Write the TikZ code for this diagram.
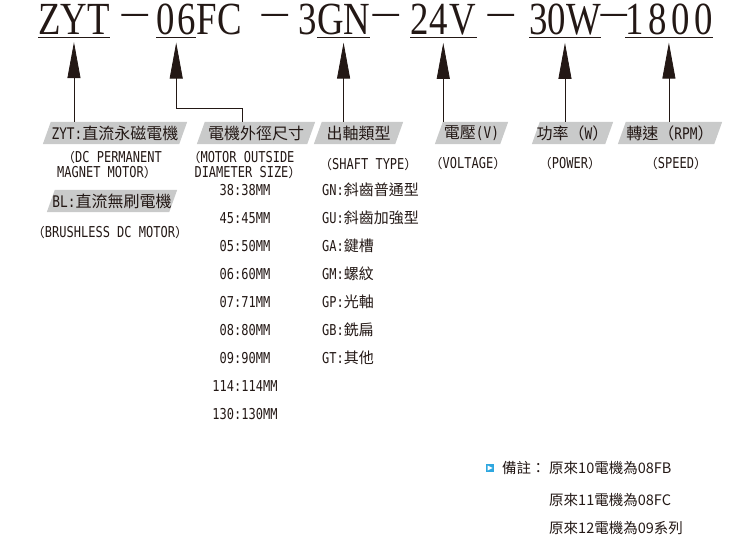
\documentclass[tikz,border=0pt]{standalone}
\usepackage{fontspec}
\usepackage{tikz}
\usetikzlibrary{arrows.meta, backgrounds, positioning, calc}
\newfontfamily\cjk{Noto Sans CJK TC}
\newfontfamily\titlefont[FakeStretch=0.8]{Liberation Serif}
\newfontfamily\dashfont[FakeStretch=2.5, FakeBold=5]{Liberation Serif}
\newfontfamily\codefont[FakeStretch=0.8]{DejaVu Sans Mono}
\definecolor{ink}{HTML}{231815}
\definecolor{tagfill}{HTML}{C9CACA}
\definecolor{iconblue}{HTML}{2EA7E0}
\newcommand{\fsize}[1]{\fontsize{#1}{#1}\selectfont}
\newcommand{\zlp}{{\cjk\fsize{13}（}}
\newcommand{\zrp}{{\cjk\fsize{13}）}}

\begin{document}
\begin{tikzpicture}[x=1pt, y=-1pt,
		every node/.style={text=ink, inner sep=0pt},
		head/.style={anchor=base west, font=\titlefont\fsize{46}, text height=31pt},
		hyphen/.style={anchor=base west, font=\dashfont\fsize{20}, text height=6pt, text depth=0pt},
		tag/.style={minimum height=22pt, font=\cjk\fsize{16}},
		desc/.style={anchor=base, font=\codefont\fsize{15}, text height=11pt, text depth=2pt},
		item/.style={anchor=base west, font=\cjk\fsize{15}, text height=13pt, text depth=2pt},
		remark/.style={anchor=base west, font=\cjk\fsize{14.5}},
		pointer/.style={draw=ink, line width=0.8pt, -{Triangle[length=36pt, width=13pt]}, shorten >=7pt}
		]
	\useasboundingbox (0,0) rectangle (750,540);

		% --- model code ---
		\node[head] (ZYT) at (38,35) {ZYT};
		\node[hyphen] (D1) at (122,19.5) {–};
		\node[head] (N06) at (156,35) {\addfontfeature{LetterSpace=7}06};
		\node[head] (FC) at (N06.base east) {FC};
		\node[hyphen] (D2) at (262,19.5) {–};
		\node[head] (N3) at (298,35) {3};
		\node[head] (GN) at (N3.base east) {GN};
		\node[hyphen] (D3) at (373,19.5) {–};
		\node[head] (V24) at (410,35) {\addfontfeature{LetterSpace=3}24V};
		\node[hyphen] (D4) at (488,19.5) {–};
		\node[head] (W30) at (529,35) {30W};
		\node[hyphen] (D5) at (601,19.5) {–};
		\node[head] (R1800) at (625,35) {\addfontfeature{LetterSpace=10}1800};

		\foreach \n in {ZYT,N06,GN,V24,W30,R1800}
			\draw[ink, line width=1.2pt] ([yshift=-2.5pt]\n.base west) -- ([yshift=-2.5pt]\n.base east);

		% --- grey tags (slanted fill behind) ---
		\node[tag, minimum width=136pt] (tZYT) at (115,133) {{\codefont ZYT:}直流永磁電機};
		\node[tag, minimum width=122pt] (tBL) at (112,201) {{\codefont BL:}直流無刷電機};
		\node[tag, minimum width=110pt] (tSize) at (256,133) {電機外徑尺寸};
		\node[tag, minimum width=81pt] (tShaft) at (358.5,133) {出軸類型};
		\node[tag, minimum width=65pt] (tVolt) at (471.5,133) {電壓{\codefont (V)}};
		\node[tag, minimum width=73pt] (tPower) at (572.5,133) {功率（{\codefont W}）};
		\node[tag, minimum width=96pt] (tSpeed) at (670,133) {轉速（{\codefont RPM}）};
		\begin{pgfonlayer}{background}
			\foreach \t in {tZYT,tBL,tSize,tShaft,tVolt,tPower,tSpeed}
				\fill[tagfill] ([xshift=-4pt]\t.south west) -- ([xshift=4pt]\t.north west)
					-- ([xshift=4pt]\t.north east) -- ([xshift=-4pt]\t.south east) -- cycle;
		\end{pgfonlayer}

		\draw[pointer] (ZYT.south |- tZYT.north) -- (ZYT.south);
		\draw[pointer] ([xshift=-14pt]tSize.north) -- ++(0,-13) -| (N06.south);
		\draw[pointer] (GN.south |- tShaft.north) -- (GN.south);
		\draw[pointer] (V24.south |- tVolt.north) -- (V24.south);
		\draw[pointer] (W30.south |- tPower.north) -- (W30.south);
		\draw[pointer] (R1800.south |- tSpeed.north) -- (R1800.south);

		% --- english names ---
		\node[desc] (eZYTa) at (112,162.5) {\zlp DC PERMANENT};
		\node[desc] (eZYTb) at (107,177.5) {MAGNET MOTOR\zrp};
		\node[desc] (eBL) at (110,237.5) {\zlp BRUSHLESS DC MOTOR\zrp};
		\node[desc] (eSizea) at (241,162.5) {\zlp MOTOR OUTSIDE};
		\node[desc] (eSizeb) at (248,177.5) {DIAMETER SIZE\zrp};
		\node[desc, anchor=base west] (eShaft) at (319,169.5) {\zlp SHAFT TYPE\zrp};
		\node[desc] (eVolt) at (468,168.5) {\zlp VOLTAGE\zrp};
		\node[desc] (ePower) at (570,168.5) {\zlp POWER\zrp};
		\node[desc] (eSpeed) at (676,168.5) {\zlp SPEED\zrp};

		% --- sizes and shafts ---
		\foreach \s [count=\i from 0] in {38:38MM,45:45MM,05:50MM,06:60MM,07:71MM,08:80MM,09:90MM,114:114MM,130:130MM}
			\node[desc] (size\i) at (245,{195.5+28*\i}) {\s};
		\foreach \c/\z [count=\i from 0] in {GN/斜齒普通型,GU/斜齒加強型,GA/鍵槽,GM/螺紋,GP/光軸,GB/銑扁,GT/其他}
			\node[item] (shaft\i) at (322,{195.5+28*\i}) {{\codefont\c:}\z};

		% --- remark ---
		\node[fill=iconblue, minimum size=8pt] (icon) at (490,468) {};
		\fill[white] ($(icon.center)+(-2.5,-2.5)$) -- ($(icon.center)+(2.5,0)$) -- ($(icon.center)+(-2.5,2.5)$) -- cycle;
		\node[remark] (note) at (502,473.5) {備註：};
		\foreach \t/\y [count=\i] in {原來10電機為08FB/473.5,原來11電機為08FC/505.5,原來12電機為09系列/533.5}
			\node[remark] (note\i) at (549,\y) {\t};

	\end{tikzpicture}
\end{document}
